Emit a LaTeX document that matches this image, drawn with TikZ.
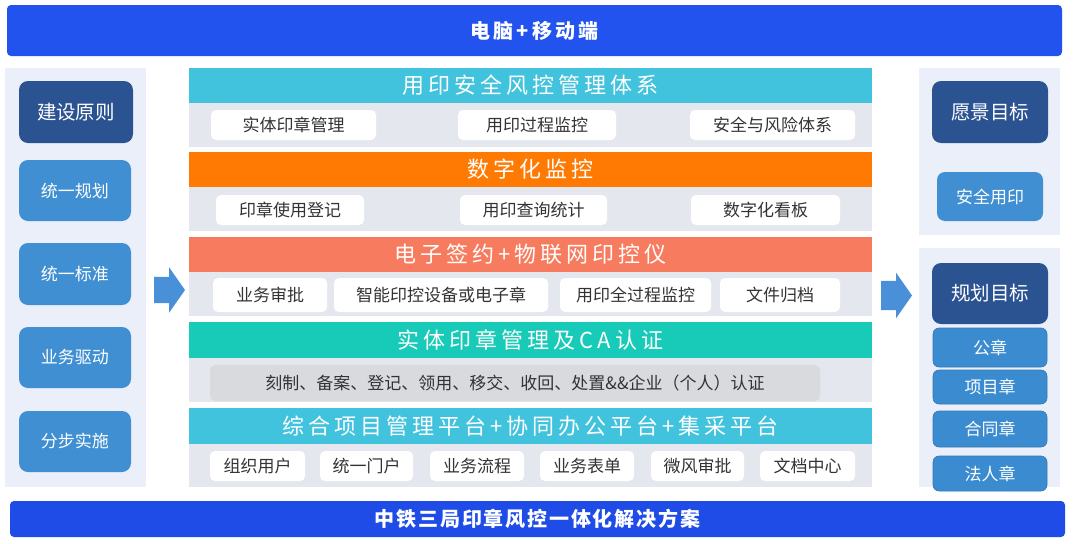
\documentclass[tikz,border=0pt]{standalone}
\usepackage{fontspec}
\setmainfont{Noto Sans CJK SC}
\newfontfamily\hdrfont[LetterSpace=18]{Noto Sans CJK SC}
\newfontfamily\barfont[LetterSpace=15]{Noto Sans CJK SC}
\newfontfamily\barfontb[LetterSpace=9]{Noto Sans CJK SC}
\usetikzlibrary{shapes.arrows}
\definecolor{barblue}{HTML}{2253EE}
\definecolor{barblue2}{HTML}{1F4CE6}
\definecolor{panelbg}{HTML}{EAEFF9}
\definecolor{darkblue}{HTML}{2B5392}
\definecolor{midblue}{HTML}{3F8FD2}
\definecolor{smallblue}{HTML}{3A8BCF}
\definecolor{hcyan}{HTML}{41C3DD}
\definecolor{horange}{HTML}{FF7A03}
\definecolor{hsalmon}{HTML}{F77C5F}
\definecolor{hteal}{HTML}{18CAB8}
\definecolor{bandgray}{HTML}{E4E7ED}
\definecolor{innergray}{HTML}{D8DADE}
\definecolor{arrowblue}{HTML}{4A90D9}
\definecolor{textdark}{HTML}{333333}
\newcommand\bx[7]{\node[#1,minimum width={(#5-#3)*1pt},minimum height={(#6-#4)*1pt}] (#2) at ({(#3+#5)/2},{(#4+#6)/2}) {#7};}
\begin{document}
\begin{tikzpicture}[x=1pt,y=-1pt,
  every node/.style={inner sep=0pt, outer sep=0pt},
  bar/.style={fill=barblue, rounded corners=4pt, text=white, font=\barfont\fontsize{20}{22}\selectfont\bfseries},
  panel/.style={fill=panelbg},
  darkbox/.style={fill=darkblue, rounded corners=9pt, text=white, font=\fontsize{19.5}{22}\selectfont},
  midbox/.style={fill=midblue, rounded corners=9pt, text=white, font=\fontsize{17}{20}\selectfont},
  smallbox/.style={fill=smallblue, draw=midblue!85!black, line width=0.6pt, rounded corners=6pt, text=white, font=\fontsize{17}{20}\selectfont},
  hdr/.style={fill=#1, text=white, font=\hdrfont\fontsize{22}{26}\selectfont},
  band/.style={fill=bandgray},
  item/.style={fill=white, rounded corners=5pt, text=textdark, font=\fontsize{17}{20}\selectfont},
  inner/.style={fill=innergray, rounded corners=5pt, text=textdark, font=\fontsize{17}{20}\selectfont},
  blockarrow/.style={single arrow, fill=arrowblue, minimum height=31pt, inner xsep=0pt, single arrow tip angle=110, anchor=tail}
]
\useasboundingbox (0,0) rectangle (1080,544);
\fill[white] (0,0) rectangle (1080,544);

% top and bottom bars
\bx{bar}{top}{7}{5}{1062}{56}{电脑+移动端}
\bx{bar,fill=barblue2,font=\barfontb\fontsize{20}{22}\selectfont\bfseries}{bottom}{10}{501}{1065}{537}{中铁三局印章风控一体化解决方案}

% left panel
\bx{panel}{lpanel}{5}{68}{146}{487}{}
\bx{darkbox}{jsyz}{19}{81}{133}{143}{建设原则}
\bx{midbox}{tygh}{19}{160}{131}{221}{统一规划}
\bx{midbox}{tybz}{19}{243}{131}{305}{统一标准}
\bx{midbox}{ywqd}{19}{327}{131}{388}{业务驱动}
\bx{midbox}{fbss}{19}{411}{131}{472}{分步实施}

% center layer 1
\bx{hdr=hcyan}{h1}{189}{68}{872}{103}{用印安全风控管理体系}
\bx{band}{b1}{189}{103}{872}{147}{}
\bx{item}{i11}{211}{110}{376}{140}{实体印章管理}
\bx{item}{i12}{458}{110}{616}{140}{用印过程监控}
\bx{item}{i13}{690}{110}{855}{140}{安全与风险体系}

% layer 2
\bx{hdr=horange}{h2}{189}{152}{872}{187}{数字化监控}
\bx{band}{b2}{189}{187}{872}{231}{}
\bx{item}{i21}{216}{195}{364}{225}{印章使用登记}
\bx{item}{i22}{460}{195}{607}{225}{用印查询统计}
\bx{item}{i23}{691}{195}{840}{225}{数字化看板}

% layer 3
\bx{hdr=hsalmon}{h3}{189}{237}{872}{272}{电子签约+物联网印控仪}
\bx{band}{b3}{189}{272}{872}{316}{}
\bx{item}{i31}{213}{278}{327}{312}{业务审批}
\bx{item}{i32}{334}{278}{548}{312}{智能印控设备或电子章}
\bx{item}{i33}{560}{278}{711}{312}{用印全过程监控}
\bx{item}{i34}{720}{278}{840}{312}{文件归档}

% layer 4
\bx{hdr=hteal}{h4}{189}{322}{872}{358}{实体印章管理及CA认证}
\bx{band}{b4}{189}{358}{872}{402}{}
\bx{inner}{i41}{210}{365}{820}{401}{刻制、备案、登记、领用、移交、收回、处置\&\&企业（个人）认证}

% layer 5
\bx{hdr=hcyan}{h5}{189}{408}{872}{444}{综合项目管理平台+协同办公平台+集采平台}
\bx{band}{b5}{189}{444}{872}{487}{}
\bx{item}{i51}{210}{451}{305}{481}{组织用户}
\bx{item}{i52}{320}{451}{413}{481}{统一门户}
\bx{item}{i53}{430}{451}{524}{481}{业务流程}
\bx{item}{i54}{540}{451}{634}{481}{业务表单}
\bx{item}{i55}{651}{451}{744}{481}{微风审批}
\bx{item}{i56}{760}{451}{855}{481}{文档中心}

% right panels
\bx{panel}{rpanel1}{919}{68}{1060}{235}{}
\bx{darkbox}{yjmb}{932}{81}{1048}{143}{愿景目标}
\bx{midbox,rounded corners=8pt}{aqyy}{937}{172}{1043}{221}{安全用印}
\bx{panel}{rpanel2}{919}{248}{1060}{487}{}
\bx{darkbox}{ghmb}{932}{263}{1048}{324}{规划目标}
\bx{smallbox}{gz}{933}{328}{1047}{367}{公章}
\bx{smallbox}{xmz}{933}{370}{1047}{404}{项目章}
\bx{smallbox}{htz}{933}{411}{1047}{447}{合同章}
\bx{smallbox}{frz}{933}{456}{1047}{491}{法人章}

% block arrows
\node[blockarrow, inner ysep=13pt, single arrow head extend=9.5pt] (larrow) at (154,290) {};
\node[blockarrow, inner ysep=14.5pt, single arrow head extend=8pt] (rarrow) at (881,295.5) {};
\end{tikzpicture}
\end{document}
